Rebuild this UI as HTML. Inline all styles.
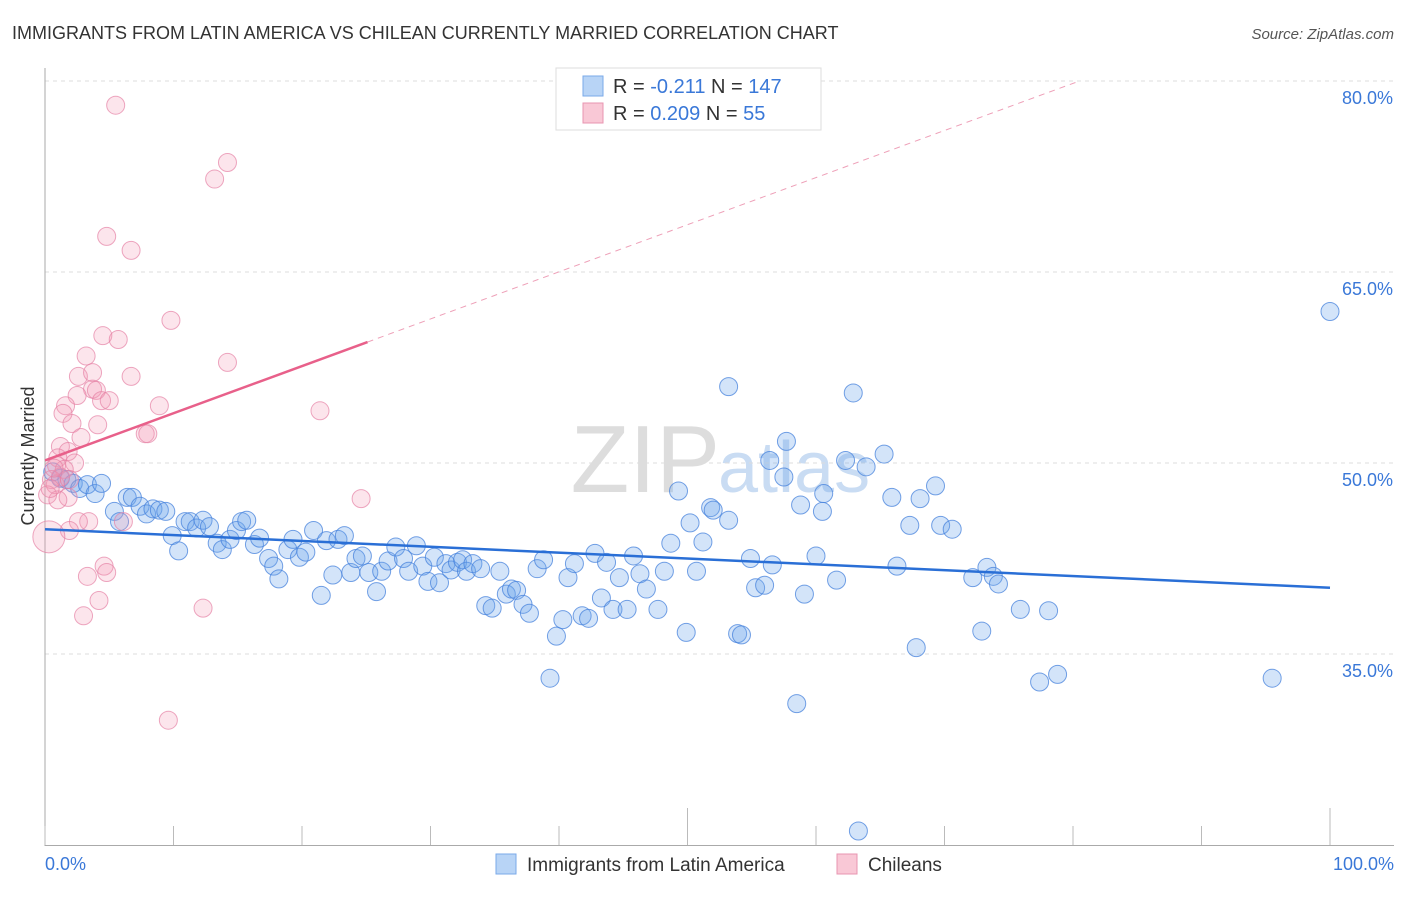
<!DOCTYPE html>
<html><head><meta charset="utf-8"><style>
body{margin:0;background:#fff;font-family:"Liberation Sans",sans-serif;}
svg text{font-family:"Liberation Sans",sans-serif;}
</style></head><body>
<svg id="chart" width="1406" height="892" viewBox="0 0 1406 892">
<text x="12" y="39" font-size="18" fill="#333">IMMIGRANTS FROM LATIN AMERICA VS CHILEAN CURRENTLY MARRIED CORRELATION CHART</text>
<text x="1394" y="39" font-size="15" fill="#555" font-style="italic" text-anchor="end">Source: ZipAtlas.com</text>
<text x="720" y="492" font-size="96" fill="#ddd" font-family="Liberation Serif" text-anchor="end">ZIP</text>
<text x="718" y="492" font-size="72" fill="#c9dcf3">atlas</text>
<g id="grid"></g>
<g id="axes"></g>
<g id="pts"></g>
<g id="trend"></g>
<text transform="translate(34,456) rotate(-90)" font-size="18" fill="#333" text-anchor="middle">Currently Married</text>
<g>
<rect x="556" y="68" width="265" height="62" fill="#fff" stroke="#ddd"/>
<rect x="583" y="76" width="20" height="20" fill="#b8d4f6" stroke="#7aaae8"/>
<rect x="583" y="103" width="20" height="20" fill="#f9c8d6" stroke="#e895b0"/>
<text x="613" y="93" font-size="20" fill="#333">R = <tspan fill="#3a78d8">-0.211</tspan>   N = <tspan fill="#3a78d8">147</tspan></text>
<text x="613" y="120" font-size="20" fill="#333">R = <tspan fill="#3a78d8">0.209</tspan>   N =  <tspan fill="#3a78d8"> 55</tspan></text>
</g>
<g>
<rect x="496" y="854" width="20" height="20" fill="#b8d4f6" stroke="#7aaae8"/>
<text x="527" y="871" font-size="19" fill="#333">Immigrants from Latin America</text>
<rect x="837" y="854" width="20" height="20" fill="#f9c8d6" stroke="#e895b0"/>
<text x="868" y="871" font-size="19" fill="#333">Chileans</text>
</g>
<text x="45" y="870" font-size="18" fill="#3a78d8">0.0%</text>
<text x="1394" y="870" font-size="18" fill="#3a78d8" text-anchor="end">100.0%</text>
</svg>
<script>
const yTicks=[80,65,50,35];
const yTickLabels=["80.0%","65.0%","50.0%","35.0%"];
const blueX=[0.6,1.2,1.7,2.2,2.7,3.3,3.9,4.4,5.4,5.8,6.4,6.8,7.4,7.9,8.4,8.9,9.4,9.9,10.4,10.9,11.3,11.8,12.3,12.8,13.4,13.8,14.4,14.9,15.3,15.7,16.3,16.7,17.4,17.8,18.2,18.9,19.3,19.8,20.3,20.9,21.5,21.9,22.4,22.8,23.3,23.8,24.2,24.7,25.2,25.8,26.2,26.7,27.3,27.9,28.3,28.9,29.4,29.8,30.3,30.7,31.2,31.6,32.1,32.5,32.8,33.3,33.9,34.3,34.8,35.4,35.9,36.3,36.7,37.2,37.7,38.3,38.8,39.3,39.8,40.3,40.7,41.2,41.8,42.3,42.8,43.3,43.7,44.2,44.7,45.3,45.8,46.3,46.8,47.7,48.2,48.7,49.3,49.9,50.2,50.7,51.2,51.8,52.0,53.2,53.2,53.9,54.2,54.9,55.3,56.0,56.4,56.6,57.7,57.5,58.8,59.1,60.0,60.5,60.6,61.6,62.3,62.9,63.3,63.9,65.3,65.9,66.3,67.3,67.8,68.1,69.3,69.7,70.6,72.2,72.9,73.3,73.8,74.2,75.9,77.4,78.1,78.8,95.5,100.0,58.5];
const blueY=[49.3,48.8,48.7,48.4,48.0,48.3,47.6,48.4,46.2,45.4,47.3,47.3,46.6,46.0,46.4,46.3,46.2,44.3,43.1,45.4,45.4,44.9,45.5,45.0,43.7,43.2,44.0,44.7,45.4,45.5,43.6,44.1,42.5,41.9,40.9,43.2,44.0,42.6,43.0,44.7,39.6,43.9,41.2,44.0,44.3,41.4,42.5,42.7,41.4,39.9,41.5,42.3,43.4,42.5,41.5,43.5,41.9,40.7,42.6,40.6,42.1,41.6,42.2,42.4,41.5,42.1,41.7,38.8,38.6,41.5,39.7,40.1,40.0,38.9,38.2,41.7,42.4,33.1,36.4,37.7,41.0,42.1,38.0,37.8,42.9,39.4,42.2,38.5,41.0,38.5,42.7,41.3,40.1,38.5,41.5,43.7,47.8,36.7,45.3,41.5,43.8,46.5,46.3,45.5,56.0,36.6,36.5,42.5,40.2,40.4,50.2,42.0,51.7,48.9,46.7,39.7,42.7,46.2,47.6,40.8,50.2,55.5,21.1,49.7,50.7,47.3,41.9,45.1,35.5,47.2,48.2,45.1,44.8,41.0,36.8,41.8,41.1,40.5,38.5,32.8,38.4,33.4,33.1,61.9,31.1];
const pinkX=[5.5,14.2,13.2,4.8,6.7,9.8,4.5,5.7,3.2,14.2,2.6,3.7,6.7,3.7,4.0,2.5,4.4,5.0,8.9,1.6,1.4,21.4,2.1,4.1,7.8,8.0,2.8,1.2,1.8,1.0,0.9,2.3,1.5,1.2,0.5,0.8,1.8,0.2,1.9,0.7,3.4,2.6,6.1,1.9,24.6,0.3,4.6,4.8,3.3,4.2,3.0,12.3,9.6,1.0,0.4];
const pinkY=[78.1,73.6,72.3,67.8,66.7,61.2,60.0,59.7,58.4,57.9,56.8,57.1,56.8,55.8,55.7,55.3,54.9,54.9,54.5,54.5,53.9,54.1,53.1,53.0,52.3,52.3,52.0,51.3,50.9,50.4,49.8,50.0,49.5,48.9,48.7,48.3,47.3,47.5,48.7,49.6,45.4,45.4,45.4,44.7,47.2,44.2,41.9,41.4,41.1,39.2,38.0,38.6,29.8,47.1,48.0];
const pinkBig=[45];
const blueTrend=[[0,44.8],[100,40.2]];
const pinkTrendSolid=[[0,50.2],[25.1,59.5]];
const pinkTrendDash=[[25.1,59.5],[80.5,80.0]];

const NS="http://www.w3.org/2000/svg";
const X=v=>45+v*12.85;
const Y=v=>463-(v-50)*12.733;
function mk(tag,attrs,parent){const e=document.createElementNS(NS,tag);for(const k in attrs)e.setAttribute(k,attrs[k]);document.getElementById(parent).appendChild(e);return e;}

yTicks.forEach((t,i)=>{
  const l=mk('line',{x1:45,x2:1394,y1:Y(t),y2:Y(t),stroke:'#ddd','stroke-dasharray':'4,4'},'grid');
  
  
  const tx=mk('text',{x:1393,y:Y(t)+23,'font-size':18,fill:'#3a78d8','text-anchor':'end'},'grid');
  tx.textContent=yTickLabels[i];
  
  
});
const ya=mk('line',{x1:45,x2:45,y1:68,y2:846,stroke:'#aaa'},'axes');


const xa=mk('line',{x1:45,x2:1394,y1:845.5,y2:845.5,stroke:'#aaa'},'axes');


for(let i=0;i<=10;i++){
  const big=(i===5||i===10);
  const tk=mk('line',{x1:X(i*10),x2:X(i*10),y1:big?808:826,y2:845,stroke:'#bbb'},'axes');
  
  
}
blueX.forEach((x,i)=>{
  const c=mk('circle',{cx:X(x),cy:Y(blueY[i]),r:9,fill:'rgba(110,165,235,0.3)',stroke:'rgba(70,130,220,0.75)','stroke-width':1},'pts');
  
  
});
pinkX.forEach((x,i)=>{
  const big=pinkBig.includes(i);
  const c=mk('circle',{cx:X(x),cy:Y(pinkY[i]),r:big?16:9,fill:'rgba(242,150,180,0.25)',stroke:'rgba(230,130,165,0.7)','stroke-width':1},'pts');
  
  
});
const bt=mk('line',{x1:X(blueTrend[0][0]),y1:Y(blueTrend[0][1]),x2:X(blueTrend[1][0]),y2:Y(blueTrend[1][1]),stroke:'#2a6fd6','stroke-width':2.5},'trend');


const pt=mk('line',{x1:X(pinkTrendSolid[0][0]),y1:Y(pinkTrendSolid[0][1]),x2:X(pinkTrendSolid[1][0]),y2:Y(pinkTrendSolid[1][1]),stroke:'#e8608a','stroke-width':2.5},'trend');


const pd=mk('line',{x1:X(pinkTrendDash[0][0]),y1:Y(pinkTrendDash[0][1]),x2:X(pinkTrendDash[1][0]),y2:Y(pinkTrendDash[1][1]),stroke:'#eea0b8','stroke-width':1,'stroke-dasharray':'6,5'},'trend');


</script>
</body></html>
